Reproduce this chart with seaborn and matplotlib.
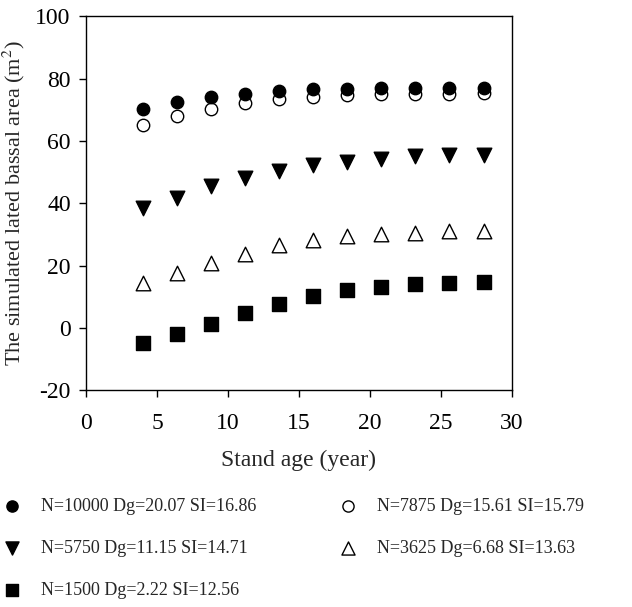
import numpy as np
import pandas as pd
import matplotlib
matplotlib.use("Agg")
import matplotlib.pyplot as plt
import seaborn as sns

# Stand age (year)
age = [4.0, 6.4, 8.8, 11.2, 13.6, 16.0, 18.4, 20.8, 23.2, 25.6, 28.0]

# simulated basal area for each stand
ba_10000 = [70.2, 72.4, 74.0, 75.2, 76.1, 76.6, 76.8, 76.9, 76.9, 76.9, 77.0]
ba_7875 = [65.0, 68.1, 70.4, 72.1, 73.5, 74.2, 74.8, 75.0, 75.2, 75.2, 75.3]
ba_5750 = [38.4, 41.8, 45.5, 48.2, 50.3, 52.2, 53.3, 54.2, 55.1, 55.4, 55.6]
ba_3625 = [14.3, 17.5, 20.7, 23.9, 26.5, 28.1, 29.5, 30.2, 30.6, 31.0, 31.0]
ba_1500 = [-4.9, -2.0, 1.3, 4.7, 7.7, 10.2, 12.1, 13.2, 14.1, 14.5, 14.8]

labels = [
    "N=10000 Dg=20.07 SI=16.86",
    "N=5750 Dg=11.15 SI=14.71",
    "N=1500 Dg=2.22 SI=12.56",
    "N=7875 Dg=15.61 SI=15.79",
    "N=3625 Dg=6.68 SI=13.63",
]
series = [ba_10000, ba_5750, ba_1500, ba_7875, ba_3625]

rows = []
for lab, vals in zip(labels, series):
    for a, v in zip(age, vals):
        rows.append({"age": a, "ba": v, "stand": lab})
df = pd.DataFrame(rows)

sns.set_style("ticks")
plt.rcParams["font.family"] = ["Liberation Serif", "DejaVu Serif"]
plt.rcParams["mathtext.fontset"] = "stix"
plt.rcParams["axes.unicode_minus"] = False

fig = plt.figure(figsize=(6.32, 6.07), dpi=100)
ax = fig.add_axes([0.136, 0.357, 0.674, 0.616])

# marker, face colour, size for each stand
styles = {
    labels[0]: ("o", "black", 80),
    labels[1]: ("v", "black", 110),
    labels[2]: ("s", "black", 100),
    labels[3]: ("o", "white", 80),
    labels[4]: ("^", "white", 110),
}

for lab in labels:
    m, fc, s = styles[lab]
    sns.scatterplot(data=df[df["stand"] == lab], x="age", y="ba", marker=m,
                    color=fc, edgecolor="black", linewidth=1.0, s=s,
                    ax=ax, label=lab, zorder=3 if fc == "black" else 2)

ax.set_xlim(0, 30)
ax.set_ylim(-20, 100)
ax.set_xticks(np.arange(0, 31, 5))
ax.set_yticks(np.arange(-20, 101, 20))
ax.tick_params(axis="both", direction="out", length=5, width=1, labelsize=17,
               colors="black", top=False, right=False, pad=6)
ax.tick_params(axis="x", pad=11)
for sp in ax.spines.values():
    sp.set_visible(True)
    sp.set_color("black")
    sp.set_linewidth(1.0)

ax.set_xlabel("Stand age (year)", fontsize=17, labelpad=12)
ax.set_ylabel("The simulated lated bassal area (m$^2$)", fontsize=16, labelpad=6)

handles, labs = ax.get_legend_handles_labels()
ax.get_legend().remove()
fig.legend(handles, labs, loc="upper left", bbox_to_anchor=(-0.035, 0.207),
           ncol=2, frameon=False, fontsize=13, handletextpad=0.6,
           labelspacing=1.4, columnspacing=4.05, markerscale=0.9)

fig.savefig("out.png", dpi=100)
